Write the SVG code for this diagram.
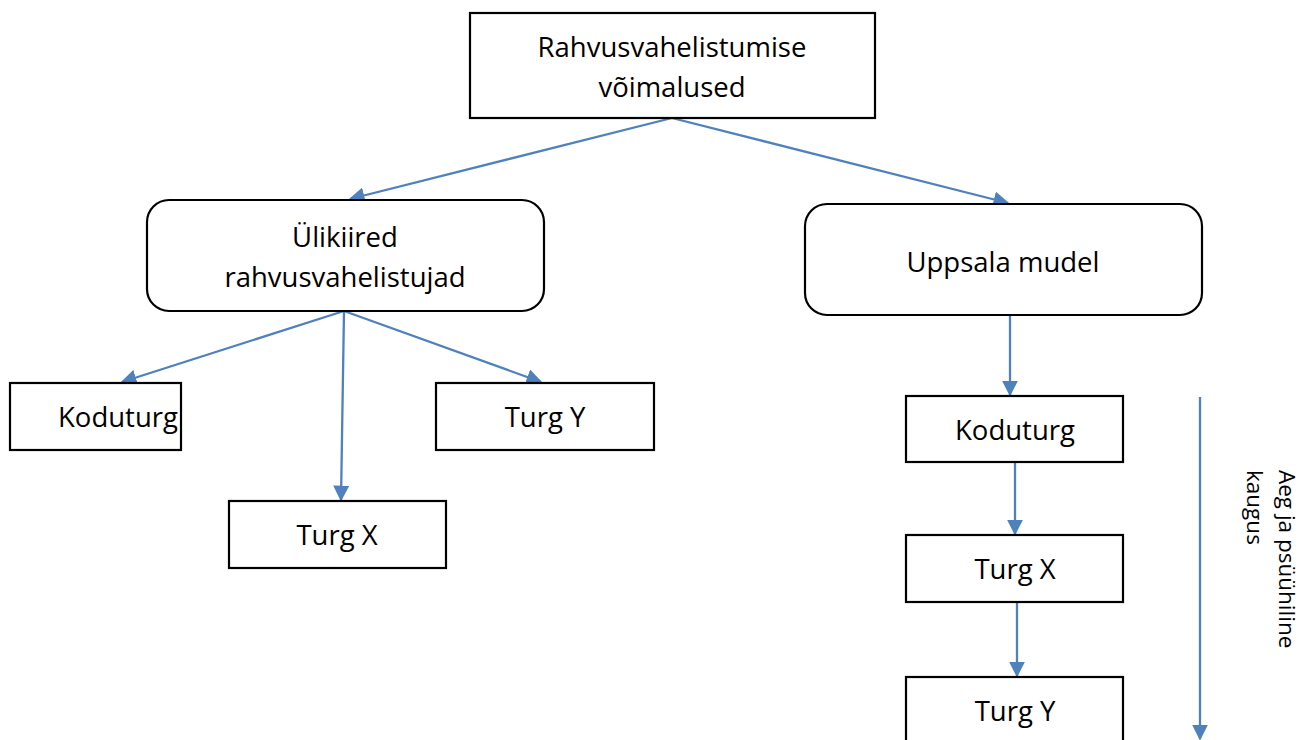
<svg xmlns="http://www.w3.org/2000/svg" width="1301" height="740" viewBox="0 0 1301 740">
<style>
.box{fill:#fff;stroke:#000;stroke-width:2.2}
.t{font-family:"Open Sans","Liberation Sans",sans-serif;font-size:27.5px;fill:#000;text-anchor:middle}
.r{font-family:"Open Sans","Liberation Sans",sans-serif;font-size:22.5px;fill:#000}
.c{stroke:#4F81BD;stroke-width:2.3;fill:none;marker-end:url(#ah)}
</style>
<defs>
<marker id="ah" viewBox="0 0 10 10" refX="9" refY="5" markerWidth="7" markerHeight="7" markerUnits="strokeWidth" orient="auto">
<path d="M0,0 L10,5 L0,10 z" fill="#4F81BD"/>
</marker>
</defs>
<rect width="1301" height="740" fill="#fff"/>
<g id="connectors">
<line class="c" x1="672" y1="118" x2="350" y2="199"/>
<line class="c" x1="672" y1="118" x2="1008" y2="203"/>
<line class="c" x1="344" y1="311" x2="122" y2="382"/>
<line class="c" x1="344" y1="311" x2="341" y2="500"/>
<line class="c" x1="344" y1="311" x2="541" y2="382"/>
<line class="c" x1="1010" y1="315" x2="1010" y2="395"/>
<line class="c" x1="1015" y1="462" x2="1015" y2="534"/>
<line class="c" x1="1017" y1="602" x2="1017" y2="676"/>
<line class="c" x1="1200" y1="397" x2="1200" y2="739"/>
</g>
<g id="n-root"><rect class="box" x="470" y="13" width="405" height="105"/>
<text class="t" x="672" y="57">Rahvusvahelistumise</text><text class="t" x="672" y="97">võimalused</text></g>
<g id="n-fast"><rect class="box" x="147" y="200" width="397" height="111" rx="22"/>
<text class="t" x="345" y="247">Ülikiired</text><text class="t" x="345" y="287">rahvusvahelistujad</text></g>
<g id="n-uppsala"><rect class="box" x="805" y="204" width="397" height="111" rx="22"/>
<text class="t" x="1003" y="272">Uppsala mudel</text></g>
<g id="n-kodu1"><rect class="box" x="10" y="383" width="171" height="67"/>
<text class="t" x="118" y="427">Koduturg</text></g>
<g id="n-y1"><rect class="box" x="436" y="383" width="218" height="67"/>
<text class="t" x="545" y="427">Turg Y</text></g>
<g id="n-x1"><rect class="box" x="229" y="501" width="217" height="67"/>
<text class="t" x="337" y="545">Turg X</text></g>
<g id="n-kodu2"><rect class="box" x="906" y="396" width="217" height="66"/>
<text class="t" x="1015" y="440">Koduturg</text></g>
<g id="n-x2"><rect class="box" x="906" y="535" width="217" height="67"/>
<text class="t" x="1015" y="579">Turg X</text></g>
<g id="n-y2"><rect class="box" x="906" y="677" width="217" height="80"/>
<text class="t" x="1015" y="721">Turg Y</text></g>
<g id="label-time">
<text class="r" transform="translate(1279,470) rotate(90)">Aeg ja psüühiline</text>
<text class="r" transform="translate(1247,470) rotate(90)">kaugus</text>
</g>
</svg>
